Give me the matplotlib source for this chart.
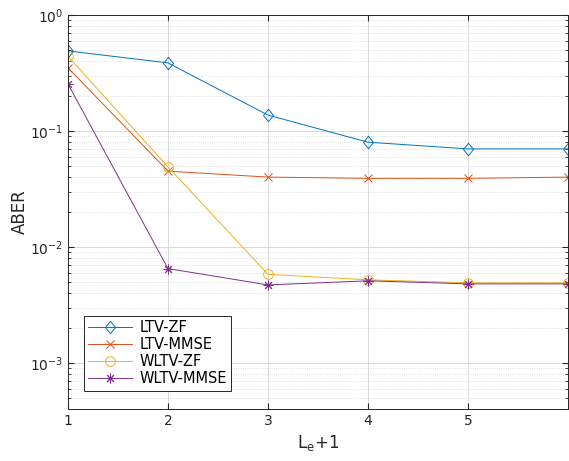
import numpy as np
from matplotlib import pyplot as plt
from matplotlib.path import Path
from matplotlib.ticker import LogLocator, NullFormatter

x = [1, 2, 3, 4, 5, 6]
ltv_zf = [0.49, 0.386, 0.137, 0.080, 0.070, 0.070]
ltv_mmse = [0.35, 0.045, 0.040, 0.039, 0.039, 0.040]
wltv_zf = [0.44, 0.049, 0.0058, 0.0052, 0.0049, 0.0049]
wltv_mmse = [0.254, 0.0065, 0.0047, 0.0051, 0.0048, 0.0048]

labels = ["LTV-ZF", "LTV-MMSE", "WLTV-ZF", "WLTV-MMSE"]
colors = ["#0072BD", "#D95319", "#EDB120", "#7E2F8E"]

# matlab style diamond (a bit taller than wide)
diamond = Path([(0, 1), (0.8, 0), (0, -1), (-0.8, 0), (0, 1)],
               [Path.MOVETO, Path.LINETO, Path.LINETO, Path.LINETO, Path.CLOSEPOLY])
markers = [diamond, "x", "o", (8, 2, 0)]
sizes = [9, 6, 7, 7]

plt.rcParams["font.family"] = "DejaVu Sans"

fig = plt.figure(figsize=(5.69, 4.61), dpi=100)
ax = fig.add_axes([0.1195, 0.1128, 0.8785, 0.8547])

for series, label, color, marker, size in zip(
    [ltv_zf, ltv_mmse, wltv_zf, wltv_mmse], labels, colors, markers, sizes
):
    ax.plot(
        x,
        series,
        color=color,
        marker=marker,
        markersize=size,
        markerfacecolor="none",
        markeredgewidth=0.7,
        linewidth=0.7,
        label=label,
    )

ax.set_yscale("log")
ax.set_xlim(1, 6)
ax.set_ylim(4e-4, 1)
ax.set_xticks([1, 2, 3, 4, 5])
ax.yaxis.set_major_locator(LogLocator(base=10, numticks=10))
ax.yaxis.set_minor_locator(LogLocator(base=10, subs=np.arange(2, 10), numticks=20))
ax.yaxis.set_minor_formatter(NullFormatter())

ax.grid(True, which="major", color="#d4d4d4", linewidth=0.6)
ax.grid(True, which="minor", axis="y", color="#d4d4d4", linestyle=":", linewidth=0.6)
ax.set_axisbelow(True)

ax.tick_params(which="both", direction="in", top=True, right=True,
               colors="#262626", labelsize=10)
ax.tick_params(which="major", length=4)
ax.tick_params(which="minor", length=2)
for spine in ax.spines.values():
    spine.set_color("#262626")
    spine.set_linewidth(0.7)

ax.set_xlabel("L$_\\mathregular{e}$+1", fontsize=12, color="#262626")
ax.set_ylabel("ABER", fontsize=12, color="#262626", labelpad=1)

leg = ax.legend(loc="lower left", bbox_to_anchor=(0.032, 0.046), borderaxespad=0,
                fontsize=10.5, fancybox=False, framealpha=1, edgecolor="#262626",
                handlelength=3.0, borderpad=0.3, labelspacing=0.15, handletextpad=0.5)
leg.get_frame().set_linewidth(0.7)

plt.savefig("out.png", dpi=100)
